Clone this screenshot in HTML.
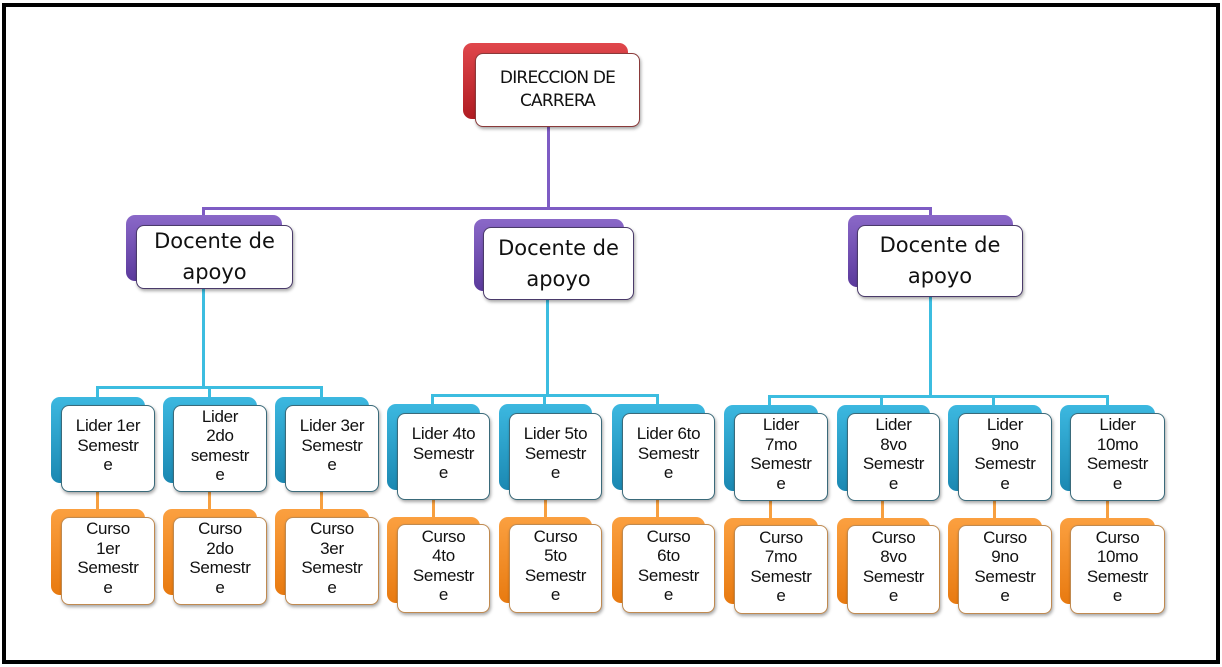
<!DOCTYPE html>
<html><head><meta charset="utf-8"><style>
body{margin:0;width:1222px;height:667px;background:#fff;position:relative;overflow:hidden;font-family:"Liberation Sans",sans-serif;}
.frame{position:absolute;left:2px;top:3px;width:1210px;height:653px;border:4px solid #000;}
.l{position:absolute;}
.b{position:absolute;border-radius:9px;}
.f{position:absolute;background:#fff;border-radius:8px;box-shadow:1px 2px 3px rgba(0,0,0,.35);display:flex;align-items:center;justify-content:center;text-align:center;color:#111;box-sizing:border-box;}
.red{background:linear-gradient(#e0474c,#b01c22);}
.pur{background:linear-gradient(#8a68c8,#5b3a9c);}
.blu{background:linear-gradient(#3cb8e0,#1b88b2);}
.ora{background:linear-gradient(#fba040,#e87a10);}
.fr{border:1.5px solid #8a3a3a;}
.fp{border:1.5px solid #4a3a6a;}
.fb{border:1.5px solid #3a6a7a;}
.fo{border:1.5px solid #c08a50;}
.s{font-size:17px;line-height:19.5px;padding-bottom:6px;letter-spacing:-0.3px;}
.d{line-height:31px;font-family:"DejaVu Sans","Liberation Sans",sans-serif;font-size:21px;}
</style></head><body>
<div class="frame"></div>

<!-- purple connectors -->
<div class="l" style="left:547px;top:125px;width:3px;height:85px;background:#7e5cc4"></div>
<div class="l" style="left:202px;top:207px;width:730px;height:3px;background:#7e5cc4"></div>
<div class="l" style="left:202px;top:207px;width:3px;height:12px;background:#7e5cc4"></div>
<div class="l" style="left:929px;top:207px;width:3px;height:12px;background:#7e5cc4"></div>

<!-- cyan connectors -->
<div class="l" style="left:202px;top:288px;width:3px;height:100px;background:#3cbde0"></div>
<div class="l" style="left:96px;top:386px;width:227px;height:3px;background:#3cbde0"></div>
<div class="l" style="left:96px;top:386px;width:3px;height:14px;background:#3cbde0"></div>
<div class="l" style="left:208px;top:386px;width:3px;height:14px;background:#3cbde0"></div>
<div class="l" style="left:320px;top:386px;width:3px;height:14px;background:#3cbde0"></div>

<div class="l" style="left:546px;top:298px;width:3px;height:98px;background:#3cbde0"></div>
<div class="l" style="left:431px;top:394px;width:228px;height:3px;background:#3cbde0"></div>
<div class="l" style="left:431px;top:394px;width:3px;height:12px;background:#3cbde0"></div>
<div class="l" style="left:543px;top:394px;width:3px;height:12px;background:#3cbde0"></div>
<div class="l" style="left:656px;top:394px;width:3px;height:12px;background:#3cbde0"></div>

<div class="l" style="left:929px;top:295px;width:3px;height:102px;background:#3cbde0"></div>
<div class="l" style="left:768px;top:395px;width:341px;height:3px;background:#3cbde0"></div>
<div class="l" style="left:768px;top:395px;width:3px;height:12px;background:#3cbde0"></div>
<div class="l" style="left:880px;top:395px;width:3px;height:12px;background:#3cbde0"></div>
<div class="l" style="left:992px;top:395px;width:3px;height:12px;background:#3cbde0"></div>
<div class="l" style="left:1106px;top:395px;width:3px;height:12px;background:#3cbde0"></div>

<!-- orange connectors -->
<div class="l" style="left:96px;top:490px;width:3px;height:22px;background:#f7a040"></div>
<div class="l" style="left:208px;top:490px;width:3px;height:22px;background:#f7a040"></div>
<div class="l" style="left:320px;top:490px;width:3px;height:22px;background:#f7a040"></div>
<div class="l" style="left:432px;top:498px;width:3px;height:22px;background:#f7a040"></div>
<div class="l" style="left:544px;top:498px;width:3px;height:22px;background:#f7a040"></div>
<div class="l" style="left:656px;top:498px;width:3px;height:22px;background:#f7a040"></div>
<div class="l" style="left:769px;top:499px;width:3px;height:22px;background:#f7a040"></div>
<div class="l" style="left:881px;top:499px;width:3px;height:22px;background:#f7a040"></div>
<div class="l" style="left:993px;top:499px;width:3px;height:22px;background:#f7a040"></div>
<div class="l" style="left:1106px;top:499px;width:3px;height:22px;background:#f7a040"></div>

<!-- top -->
<div class="b red" style="left:463px;top:43px;width:165px;height:76px"></div>
<div class="f fr" style="left:475px;top:53px;width:165px;height:74px;font-size:17px;line-height:23px;font-family:'DejaVu Sans','Liberation Sans',sans-serif;letter-spacing:-0.8px">DIRECCION DE<br>CARRERA</div>

<!-- docentes -->
<div class="b pur" style="left:126px;top:215px;width:156px;height:66px"></div>
<div class="f fp d" style="left:136px;top:225px;width:157px;height:64px">Docente de<br>apoyo</div>
<div class="b pur" style="left:474px;top:219px;width:150px;height:72px"></div>
<div class="f fp d" style="left:483px;top:227px;width:151px;height:73px">Docente de<br>apoyo</div>
<div class="b pur" style="left:848px;top:215px;width:165px;height:72px"></div>
<div class="f fp d" style="left:857px;top:225px;width:166px;height:72px">Docente de<br>apoyo</div>

<!-- group 1 -->
<div class="b blu" style="left:51px;top:397px;width:94px;height:86px"></div>
<div class="f fb s" style="left:61px;top:405px;width:94px;height:87px">Lider 1er<br>Semestr<br>e</div>
<div class="b blu" style="left:163px;top:397px;width:94px;height:86px"></div>
<div class="f fb s" style="left:173px;top:405px;width:94px;height:87px">Lider<br>2do<br>semestr<br>e</div>
<div class="b blu" style="left:275px;top:397px;width:94px;height:86px"></div>
<div class="f fb s" style="left:285px;top:405px;width:94px;height:87px">Lider 3er<br>Semestr<br>e</div>

<div class="b ora" style="left:51px;top:509px;width:94px;height:86px"></div>
<div class="f fo s" style="left:61px;top:517px;width:94px;height:88px">Curso<br>1er<br>Semestr<br>e</div>
<div class="b ora" style="left:163px;top:509px;width:94px;height:86px"></div>
<div class="f fo s" style="left:173px;top:517px;width:94px;height:88px">Curso<br>2do<br>Semestr<br>e</div>
<div class="b ora" style="left:275px;top:509px;width:94px;height:86px"></div>
<div class="f fo s" style="left:285px;top:517px;width:94px;height:88px">Curso<br>3er<br>Semestr<br>e</div>

<!-- group 2 -->
<div class="b blu" style="left:387px;top:404px;width:93px;height:86px"></div>
<div class="f fb s" style="left:397px;top:413px;width:93px;height:87px">Lider 4to<br>Semestr<br>e</div>
<div class="b blu" style="left:499px;top:404px;width:93px;height:86px"></div>
<div class="f fb s" style="left:509px;top:413px;width:93px;height:87px">Lider 5to<br>Semestr<br>e</div>
<div class="b blu" style="left:612px;top:404px;width:93px;height:86px"></div>
<div class="f fb s" style="left:622px;top:413px;width:93px;height:87px">Lider 6to<br>Semestr<br>e</div>

<div class="b ora" style="left:387px;top:517px;width:93px;height:86px"></div>
<div class="f fo s" style="left:397px;top:524px;width:93px;height:89px">Curso<br>4to<br>Semestr<br>e</div>
<div class="b ora" style="left:499px;top:517px;width:93px;height:86px"></div>
<div class="f fo s" style="left:509px;top:524px;width:93px;height:89px">Curso<br>5to<br>Semestr<br>e</div>
<div class="b ora" style="left:612px;top:517px;width:93px;height:86px"></div>
<div class="f fo s" style="left:622px;top:524px;width:93px;height:89px">Curso<br>6to<br>Semestr<br>e</div>

<!-- group 3 -->
<div class="b blu" style="left:724px;top:405px;width:94px;height:86px"></div>
<div class="f fb s" style="left:734px;top:413px;width:94px;height:88px">Lider<br>7mo<br>Semestr<br>e</div>
<div class="b blu" style="left:837px;top:405px;width:93px;height:86px"></div>
<div class="f fb s" style="left:847px;top:413px;width:93px;height:88px">Lider<br>8vo<br>Semestr<br>e</div>
<div class="b blu" style="left:948px;top:405px;width:94px;height:86px"></div>
<div class="f fb s" style="left:958px;top:413px;width:94px;height:88px">Lider<br>9no<br>Semestr<br>e</div>
<div class="b blu" style="left:1060px;top:405px;width:95px;height:86px"></div>
<div class="f fb s" style="left:1070px;top:413px;width:95px;height:88px">Lider<br>10mo<br>Semestr<br>e</div>

<div class="b ora" style="left:724px;top:518px;width:94px;height:86px"></div>
<div class="f fo s" style="left:734px;top:525px;width:94px;height:89px">Curso<br>7mo<br>Semestr<br>e</div>
<div class="b ora" style="left:837px;top:518px;width:93px;height:86px"></div>
<div class="f fo s" style="left:847px;top:525px;width:93px;height:89px">Curso<br>8vo<br>Semestr<br>e</div>
<div class="b ora" style="left:948px;top:518px;width:94px;height:86px"></div>
<div class="f fo s" style="left:958px;top:525px;width:94px;height:89px">Curso<br>9no<br>Semestr<br>e</div>
<div class="b ora" style="left:1060px;top:518px;width:95px;height:86px"></div>
<div class="f fo s" style="left:1070px;top:525px;width:95px;height:89px">Curso<br>10mo<br>Semestr<br>e</div>
</body></html>
